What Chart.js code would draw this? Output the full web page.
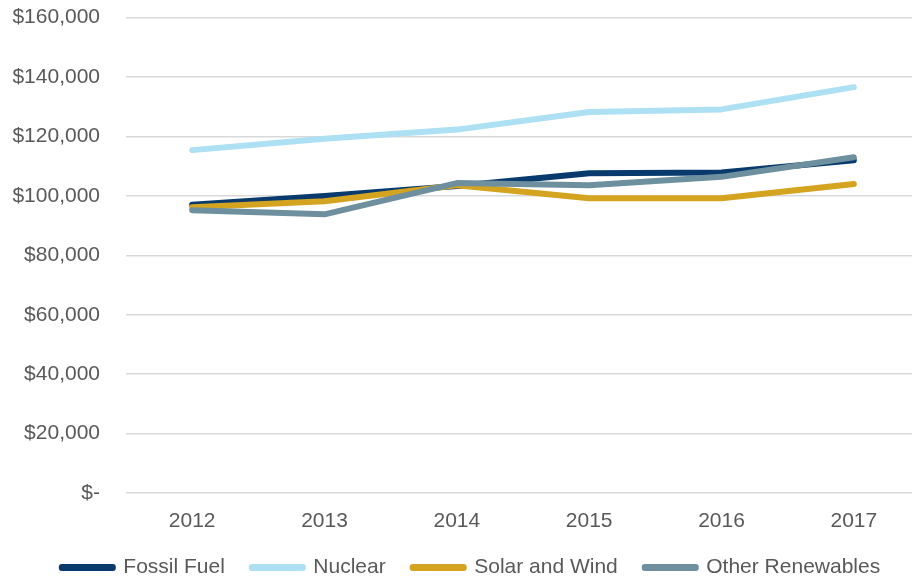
<!DOCTYPE html>
<html>
<head>
<meta charset="utf-8">
<script src="https://cdn.jsdelivr.net/npm/chart.js@4/dist/chart.umd.min.js"></script>
<style>
    html, body { margin: 0; padding: 0; background: #fff; overflow: hidden; }
    #wrap { width: 920px; height: 580px; }
</style>
</head>
<body>
<div id="wrap"><canvas id="costChart"></canvas></div>
<script>
// data
const years = ['2012', '2013', '2014', '2015', '2016', '2017'];
const fossilFuel = [97000, 100000, 103300, 107600, 107900, 112000];
const nuclear = [115400, 119200, 122300, 128200, 129100, 136600];
const solarWind = [96200, 98200, 103600, 99200, 99200, 104000];
const otherRenewables = [95200, 93800, 104300, 103600, 106400, 113000];

const yTicks = [0, 20000, 40000, 60000, 80000, 100000, 120000, 140000, 160000];

const textColor = '#595959';
const fontFamily = '"Liberation Sans", Arial, sans-serif';

function series(label, data, color, order) {
    return {
        label: label,
        data: data,
        borderColor: color,
        backgroundColor: color,
        borderWidth: 6,
        borderCapStyle: 'round',
        borderJoinStyle: 'round',
        pointRadius: 0,
        pointHoverRadius: 0,
        tension: 0,
        order: order
    };
}

// legend sits a bit right of the canvas centre in the original
const shiftLegend = {
    id: 'shiftLegend',
    afterLayout(chart) {
        if (!chart.legend) return;
        chart.legend.left += 11;
        chart.legend.right += 11;
    }
};

new Chart(document.getElementById('costChart'), {
    type: 'line',
    data: {
        labels: years,
        datasets: [
            series('Fossil Fuel', fossilFuel, '#083a6e', 4),
            series('Nuclear', nuclear, '#ade0f3', 3),
            series('Solar and Wind', solarWind, '#d4a31f', 2),
            series('Other Renewables', otherRenewables, '#6e909e', 1)
        ]
    },
    plugins: [shiftLegend],
    options: {
        responsive: true,
        maintainAspectRatio: false,
        animation: false,
        layout: { padding: { top: 0, left: 0, right: 0, bottom: -8 } },
        plugins: {
            tooltip: { enabled: false },
            legend: {
                position: 'bottom',
                labels: {
                    boxWidth: 51,
                    boxHeight: 1,
                    useBorderRadius: true,
                    borderRadius: 0,
                    padding: 27,
                    color: textColor,
                    font: { family: fontFamily, size: 21 },
                    // thin box stroked with a wide round pen, like the line samples
                    generateLabels: chart => chart.data.datasets.map((ds, i) => ({
                        text: ds.label,
                        fillStyle: ds.borderColor,
                        strokeStyle: ds.borderColor,
                        lineWidth: 6,
                        lineJoin: 'round',
                        lineCap: 'round',
                        borderRadius: 0,
                        fontColor: textColor,
                        datasetIndex: i,
                        hidden: false
                    }))
                }
            }
        },
        scales: {
            x: {
                offset: true,
                grid: { display: false, drawTicks: false },
                border: { display: false },
                afterFit: s => { s.height = 37; },
                ticks: { color: textColor, padding: 16, font: { family: fontFamily, size: 21 } }
            },
            y: {
                min: 0,
                max: 160000,
                afterBuildTicks: axis => { axis.ticks = yTicks.map(v => ({ value: v })); },
                afterFit: s => { s.width = 126; },
                grid: { color: '#d9d9d9', lineWidth: 1.5, drawTicks: true, tickLength: 21, tickColor: 'rgba(0,0,0,0)' },
                border: { display: false },
                ticks: {
                    color: textColor,
                    padding: 5,
                    font: { family: fontFamily, size: 21 },
                    callback: v => v === 0 ? '$-' : '$' + v.toLocaleString('en-US')
                }
            }
        }
    }
});
</script>
</body>
</html>
